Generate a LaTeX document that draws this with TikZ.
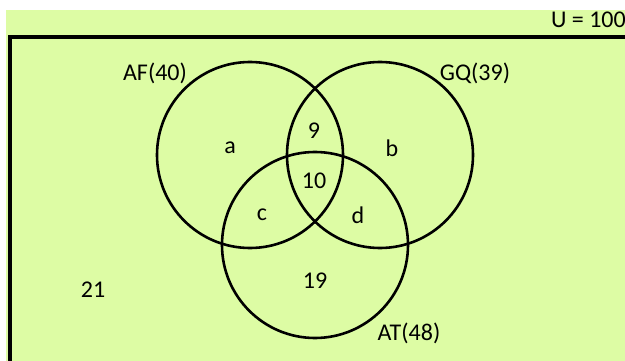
\documentclass[tikz,border=0pt]{standalone}
\usepackage{fontspec}
\setmainfont{Carlito}
\usetikzlibrary{positioning}
\definecolor{bg}{RGB}{221,252,164}
\tikzstyle{set}=[draw, circle, line width=2.6pt, minimum size=186pt, inner sep=0pt]
\tikzstyle{lbl}=[font=\fontsize{24}{26}\selectfont, inner sep=0pt]

\begin{document}
\begin{tikzpicture}[x=1pt, y=-1pt]
    \useasboundingbox (0,0) rectangle (625,361);
    \fill[bg] (6,10) rectangle (625,361);
    \clip (0,0) rectangle (625,361);

    % universe frame
    \draw[line width=3.5pt] (10,370) |- (640,37);
    \node[lbl, anchor=north east] (U) at (626,12) {U = 100};

    % the three sets
    \node[set] (AF) at (250,155) {};
    \node[set] (GQ) at (380,155) {};
    \node[set] (AT) at (315,245) {};

    \node[lbl] (AFlbl) at (155,73) {AF(40)};
    \node[lbl] (GQlbl) at (475,73) {GQ(39)};
    \node[lbl] (ATlbl) at (409,333) {AT(48)};

    % regions
    \node[lbl] (a) at (230,148) {a};
    \node[lbl] (b) at (392,148) {b};
    \node[lbl] (ab) at (314,131) {9};
    \node[lbl] (abt) at (314,181) {10};
    \node[lbl] (c) at (262,215) {c};
    \node[lbl] (d) at (358,215) {d};
    \node[lbl] (t) at (315,281) {19};
    \node[lbl] (out) at (93,290) {21};

\end{tikzpicture}
\end{document}
